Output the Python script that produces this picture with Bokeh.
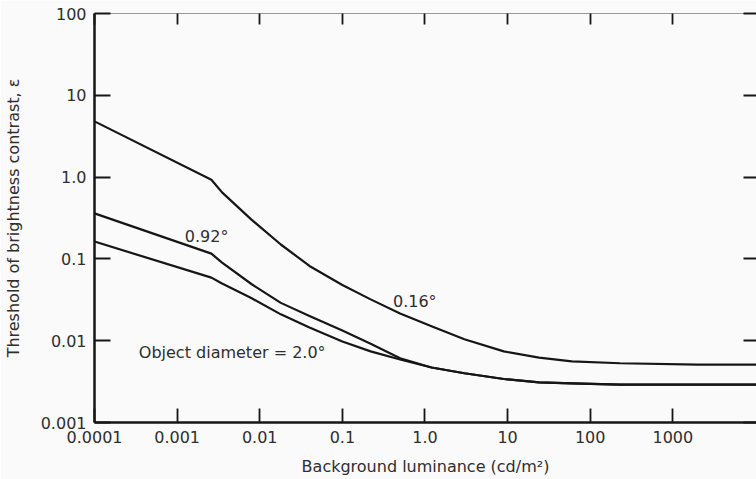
from bokeh.plotting import figure
from bokeh.models import FixedTicker, LogAxis, Range1d, CustomJSTickFormatter
from bokeh.core.properties import value
from bokeh.embed import file_html
from bokeh.resources import INLINE

# Background luminance (cd/m^2) at which each curve is sampled
lum = [0.0001, 0.0026, 0.0035, 0.008, 0.018, 0.04, 0.1, 0.22, 0.5,
       1.2, 3, 9, 24, 60, 230, 2000, 10500]

# Threshold of brightness contrast for each object diameter
c_016 = [4.8, 0.93, 0.65, 0.30, 0.15, 0.082, 0.048, 0.032, 0.0215,
         0.015, 0.0104, 0.0074, 0.0062, 0.0056, 0.0053, 0.0051, 0.0051]
c_092 = [0.36, 0.116, 0.090, 0.049, 0.029, 0.020, 0.0133, 0.0092, 0.0061,
         0.0047, 0.0040, 0.0034, 0.0031, 0.0030, 0.0029, 0.0029, 0.0029]
c_200 = [0.163, 0.059, 0.050, 0.033, 0.021, 0.0145, 0.0098, 0.0074, 0.0059,
         0.0047, 0.0040, 0.0034, 0.0031, 0.0030, 0.0029, 0.0029, 0.0029]

# Axis ticks and their printed labels
x_ticks = [0.0001, 0.001, 0.01, 0.1, 1.0, 10.0, 100.0, 1000.0]
x_tick_labels = ["0.0001", "0.001", "0.01", "0.1", "1.0", "10", "100", "1000"]
y_ticks = [0.001, 0.01, 0.1, 1.0, 10.0, 100.0]
y_tick_labels = ["0.001", "0.01", "0.1", "1.0", "10", "100"]

# Curve annotations (data coordinates of each label's left edge)
note_text = ["0.92°", "0.16°", "Object diameter = 2.0°"]
note_x = [0.00124, 0.41, 0.000344]
note_y = [0.19, 0.030, 0.0072]

FONT = "DejaVu Sans"
INK = "#161616"
TXT = "#2e2e2e"
BG = "#fafafa"

LOOKUP = """
const i = tvals.findIndex(t => Math.abs(Math.log10(t) - Math.log10(tick)) < 1e-6);
return i >= 0 ? tlabs[i] : "";
"""


def labelled(tvals, tlabs):
    return CustomJSTickFormatter(args=dict(tvals=tvals, tlabs=tlabs), code=LOOKUP)


p = figure(width=756, height=479, x_axis_type="log", y_axis_type="log",
           x_range=Range1d(1e-4, 1.03e4), y_range=Range1d(1e-3, 100),
           output_backend="svg", toolbar_location=None,
           min_border_left=94, min_border_right=0,
           min_border_top=13, min_border_bottom=57,
           background_fill_color=BG, border_fill_color=BG)
p.grid.visible = False
p.outline_line_color = None

# bottom axis
xa = p.xaxis[0]
xa.ticker = FixedTicker(ticks=x_ticks)
xa.formatter = labelled(x_ticks, x_tick_labels)
xa.major_tick_in = 14
xa.major_tick_out = 0
xa.major_tick_line_width = 1.8
xa.major_tick_line_color = INK
xa.minor_tick_line_color = None
xa.axis_line_width = 2.5
xa.axis_line_color = INK
xa.major_label_standoff = 8
xa.major_label_text_font = FONT
xa.major_label_text_font_size = "16px"
xa.major_label_text_color = TXT
xa.axis_label = "Background luminance (cd/m²)"
xa.axis_label_text_font = FONT
xa.axis_label_text_font_size = "16px"
xa.axis_label_text_font_style = "normal"
xa.axis_label_text_color = TXT
xa.axis_label_standoff = 11

# left axis
ya = p.yaxis[0]
ya.ticker = FixedTicker(ticks=y_ticks)
ya.formatter = labelled(y_ticks, y_tick_labels)
ya.major_tick_in = 16
ya.major_tick_out = 0
ya.major_tick_line_width = 1.8
ya.major_tick_line_color = INK
ya.minor_tick_line_color = None
ya.axis_line_width = 2.5
ya.axis_line_color = INK
ya.major_label_standoff = 8
ya.major_label_text_font = FONT
ya.major_label_text_font_size = "16px"
ya.major_label_text_color = TXT
ya.axis_label = "Threshold of brightness contrast, ε"
ya.axis_label_text_font = FONT
ya.axis_label_text_font_size = "16px"
ya.axis_label_text_font_style = "normal"
ya.axis_label_text_color = TXT
ya.axis_label_standoff = 15

# top edge: thin rule with inward ticks, labels not drawn
top = LogAxis(ticker=FixedTicker(ticks=x_ticks), axis_line_color="#9a9a9a",
              axis_line_width=1, major_tick_in=11, major_tick_out=0,
              major_tick_line_width=1.8, major_tick_line_color=INK,
              minor_tick_line_color=None, major_label_text_font_size="1px",
              major_label_text_color=None, major_label_standoff=0)
p.add_layout(top, "above")

# right edge: inward ticks only
right = LogAxis(ticker=FixedTicker(ticks=y_ticks), axis_line_color=None,
                major_tick_in=13, major_tick_out=0,
                major_tick_line_width=1.8, major_tick_line_color=INK,
                minor_tick_line_color=None, major_label_text_font_size="1px",
                major_label_text_color=None, major_label_standoff=0)
p.add_layout(right, "right")

for c in (c_016, c_092, c_200):
    p.line(lum, c, line_color=INK, line_width=2.2, line_join="round")

p.text(x=note_x, y=note_y, text=note_text, text_font=value(FONT),
       text_font_size="16px", text_baseline="middle", text_align="left",
       text_color=TXT)

open("out.html", "w").write(file_html(p, INLINE))
